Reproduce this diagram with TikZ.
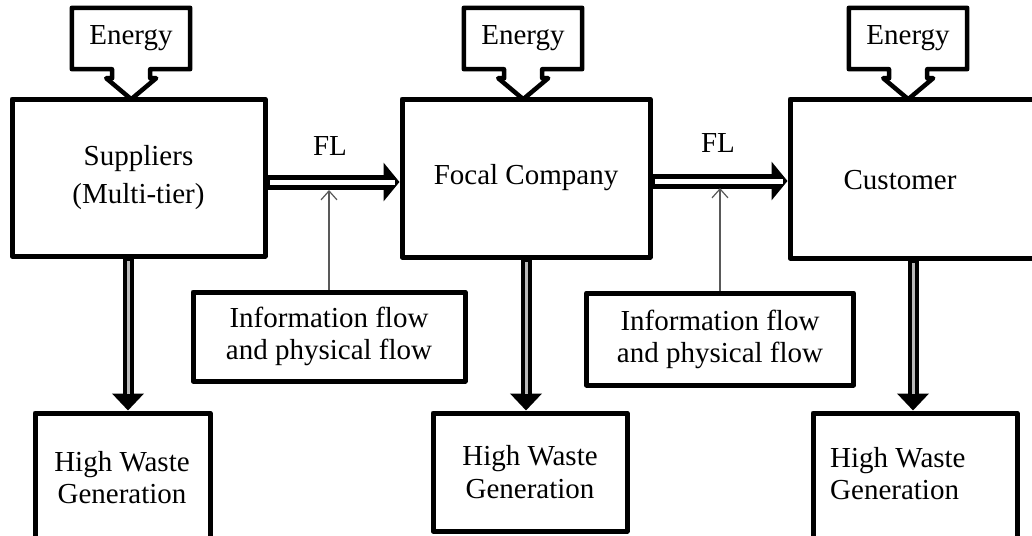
\documentclass[tikz,border=0pt]{standalone}
\usepackage{fontspec}
\setmainfont{Liberation Serif}
\usetikzlibrary{arrows.meta,calc}

% "Energy" box with an outlined arrow pointing down at the box below it
\newcommand{\energycallout}[2]{%
  \node[energybox] (#1) at (#2,38.5) {Energy};
  \draw[energyline] ($(#1.south)+(-19,0)$) -- (#1.south west) -- (#1.north west)
    -- (#1.north east) -- (#1.south east) -- ++(-40,0) -- ++(0,9) -- ++(6,0)
    -- ++(-25,21) -- ++(-25,-21) -- ++(6,0) -- cycle;
}

\begin{document}
\begin{tikzpicture}[x=1pt,y=-1pt,
  every node/.style={font=\fontsize{29}{34}\selectfont, inner sep=0pt},
  box/.style={draw, line width=5pt, line join=round, align=center},
  energybox/.style={minimum width=118pt, minimum height=61pt},
  energyline/.style={draw, line width=4.5pt, line join=round},
  flowarrow/.style={line width=15pt, -{Triangle[length=16pt,width=38pt]},
    postaction={draw=white, line width=5pt, -, shorten <=2.5pt, shorten >=5pt}},
  droparrow/.style={line width=11pt, -{Triangle[length=17pt,width=31pt]},
    postaction={draw=gray!55, line width=3pt, -, shorten <=2.5pt, shorten >=17pt}},
  infoarrow/.style={draw=black!65, line width=1.2pt, -{Straight Barb[length=9pt,width=16pt]}},
]
\useasboundingbox (0,0) rectangle (1032,535);

% main chain
\node[box, minimum width=253pt, minimum height=157pt,
      font=\fontsize{29}{38}\selectfont] (sup) at (138.5,177.5) {Suppliers\\(Multi-tier)};
\node[box, minimum width=248pt, minimum height=158pt] (focal) at (526,178) {Focal Company};
\node[box, minimum width=260pt, minimum height=159pt] (cust) at (920,178.5) {};
\node (custtext) at (900,180) {Customer};

% energy inputs
\energycallout{e1}{131}
\energycallout{e2}{523}
\energycallout{e3}{908}

% information / physical flow boxes
\node[box, minimum width=272pt, minimum height=89pt,
      font=\fontsize{29}{32}\selectfont] (info1) at (329,336.5) {Information flow\\and physical flow};
\node[box, minimum width=267pt, minimum height=92pt,
      font=\fontsize{29}{32}\selectfont] (info2) at (720,339) {Information flow\\and physical flow};

% waste outputs
\node[box, minimum width=175pt, minimum height=147pt] (w1) at (122.5,486.5) {};
\node[align=center, font=\fontsize{29}{32}\selectfont] (w1text) at (122,478) {High Waste\\Generation};
\node[box, minimum width=194pt, minimum height=118pt,
      font=\fontsize{29}{33}\selectfont] (w2) at (530,472) {High Waste\\Generation};
\node[box, minimum width=204pt, minimum height=147pt] (w3) at (915,486.5) {};
\node[align=left, anchor=west, font=\fontsize{29}{32}\selectfont] (w3text) at (830,474) {High Waste\\Generation};

% flow labels
\node (fl1) at (330,146) {FL};
\node (fl2) at (718,143) {FL};

% connectors
\coordinate (h1) at (0,182);
\coordinate (h2) at (0,181);
\draw[flowarrow] (sup.east |- h1) -- (focal.west |- h1);
\draw[flowarrow] (focal.east |- h2) -- (cust.west |- h2);

\coordinate (t1) at (0,190);
\coordinate (t2) at (0,188);
\draw[infoarrow] (info1.north) -- (info1.north |- t1);
\draw[infoarrow] (info2.north) -- (info2.north |- t2);

\coordinate (d1) at (128,0);
\coordinate (d2) at (526,0);
\coordinate (d3) at (913,0);
\draw[droparrow] (sup.south -| d1) -- (w1.north -| d1);
\draw[droparrow] (focal.south -| d2) -- (w2.north -| d2);
\draw[droparrow] (cust.south -| d3) -- (w3.north -| d3);
\end{tikzpicture}
\end{document}
